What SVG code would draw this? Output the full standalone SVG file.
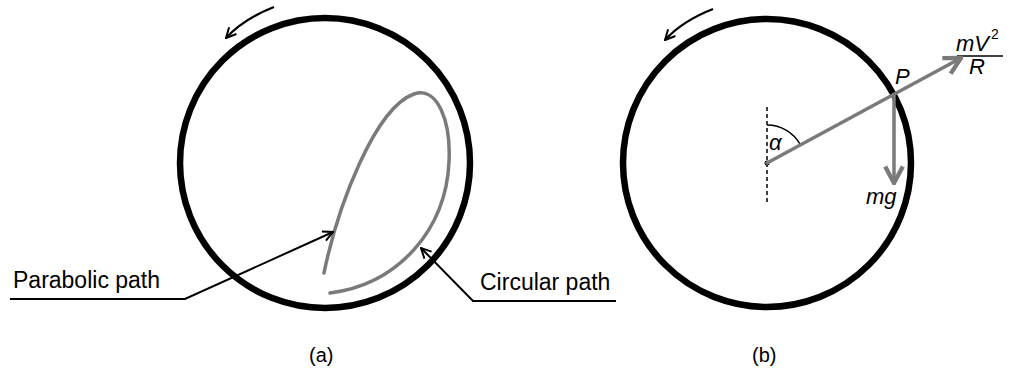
<svg xmlns="http://www.w3.org/2000/svg" width="1010" height="378" viewBox="0 0 1010 378">
<defs>
<style>
.ring{fill:none;stroke:#000;stroke-width:6.5}
.gray{fill:none;stroke:#7a7a7a;stroke-width:3.5;stroke-linecap:round}
.lead{fill:none;stroke:#000;stroke-width:2}
.rot{fill:none;stroke:#000;stroke-width:2.3}
.lbl{font-family:"Liberation Sans",Arial,sans-serif;font-size:23px;fill:#000}
.cap{font-family:"Liberation Sans",Arial,sans-serif;font-size:20px;fill:#000}
.math{font-family:"Liberation Sans",Arial,sans-serif;font-size:22px;font-style:italic;fill:#000}
</style>
<marker id="open" viewBox="0 0 12 12" refX="11" refY="6" markerWidth="12" markerHeight="12" markerUnits="userSpaceOnUse" orient="auto">
<path d="M1,1 L11,6 L1,11" fill="none" stroke="#000" stroke-width="2"/>
</marker>
<marker id="gopen" viewBox="0 0 20 20" refX="18" refY="10" markerWidth="22" markerHeight="22" markerUnits="userSpaceOnUse" orient="auto">
<path d="M3,2 L18,10 L3,18" fill="none" stroke="#7a7a7a" stroke-width="4"/>
</marker>
</defs>
<g id="panel-a">
<circle class="ring" cx="325" cy="163" r="145"/>
<path class="gray" d="M324,273 C338,205 375,108 414,94 C438,86 451,122 449,162 C446,228 400,284 330,293"/>
<text class="lbl" x="13" y="288">Parabolic path</text>
<text class="lbl" x="480" y="290">Circular path</text>
<text class="cap" x="309" y="362">(a)</text>
</g>
<g id="panel-b">
<circle class="ring" cx="767" cy="163" r="144"/>
<line x1="767" y1="107" x2="767" y2="205" stroke="#000" stroke-width="1.5" stroke-dasharray="4,3"/>
<path d="M767,125 A38,38 0 0 1 800,144" fill="none" stroke="#000" stroke-width="1.5"/>
<circle cx="767" cy="163" r="2.5" fill="#000"/>
<text class="math" x="769" y="150">α</text>
<text class="math" x="895" y="84">P</text>
<text class="math" x="956" y="51">mV</text>
<text x="991" y="39" font-family="Liberation Sans,Arial,sans-serif" font-size="14">2</text>
<line x1="957" y1="56" x2="1003" y2="56" stroke="#000" stroke-width="1.5"/>
<text class="math" x="969" y="74">R</text>
<text class="math" x="866" y="204" font-size="24">mg</text>
<text class="cap" x="752" y="362">(b)</text>
</g>
<g id="connectors">
<path class="rot" d="M274,7 C256,14 238,25 226,38" marker-end="url(#open)"/>
<path class="rot" d="M713,9 C695,16 677,27 665,40" marker-end="url(#open)"/>
<polyline class="lead" points="10,299 185,299 333,232" marker-end="url(#open)"/>
<polyline class="lead" points="616,301 473,301 421,248" marker-end="url(#open)"/>
<line class="gray" x1="767" y1="163" x2="961" y2="58" marker-end="url(#gopen)"/>
<line class="gray" x1="894" y1="96" x2="894" y2="183" marker-end="url(#gopen)"/>
</g>
</svg>
